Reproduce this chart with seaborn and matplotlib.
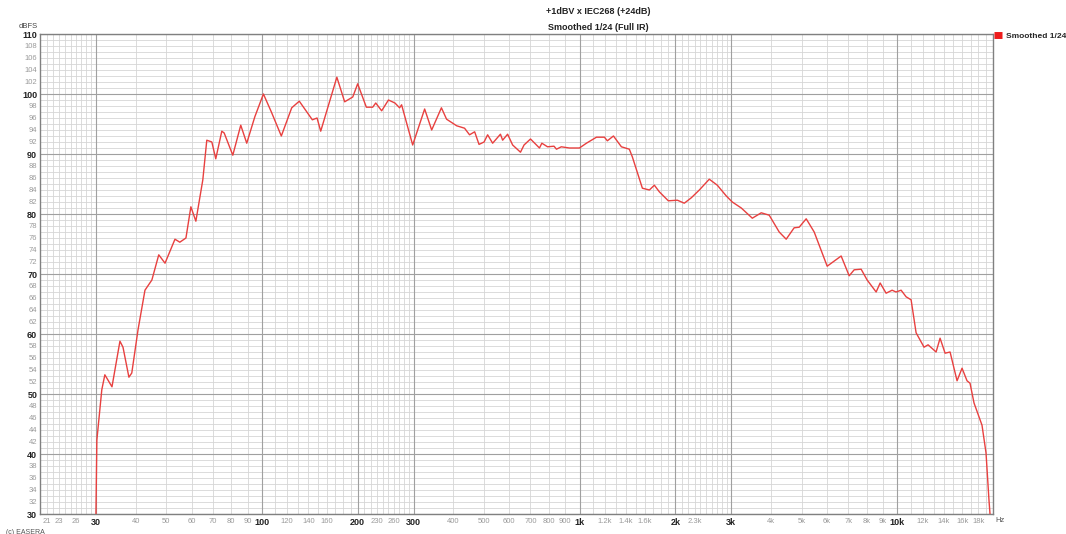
import matplotlib
matplotlib.use("Agg")
import matplotlib.pyplot as plt
import seaborn as sns
import pandas as pd

# ---- data ----
freq_hz = [30, 30.2, 31.3, 32.0, 33.7, 35.7, 36.5, 38.1, 38.9, 40.7, 42.8, 45.0, 47.3, 49.5,
           53.2, 55.1, 57.6, 59.7, 61.9, 65.1, 67.0, 69.5, 71.5, 74.7, 76.0, 80.9, 85.7,
           89.5, 94.9, 101, 107, 115, 124, 131, 144, 149, 153, 172, 182, 193, 200, 213,
           223, 228, 238, 250, 262, 271, 275, 298, 325, 342, 367, 381, 410, 434, 450, 467,
           482, 500, 513, 532, 563, 572, 593, 615, 651, 668, 700, 747, 760, 792, 830, 845,
           875, 928, 998, 1050, 1129, 1196, 1222, 1277, 1353, 1433, 1465, 1575, 1657, 1718,
           1781, 1901, 2030, 2134, 2245, 2380, 2558, 2711, 2894, 3022, 3226, 3494, 3728,
           3950, 4246, 4467, 4732, 4908, 5164, 5472, 6012, 6653, 7052, 7312, 7690, 8032,
           8574, 8826, 9216, 9626, 9900, 10274, 10654, 11046, 11454, 12134, 12492, 13240,
           13628, 14132, 14652, 15412, 15980, 16568, 16932, 17430, 18468, 19012, 19426, 19570]
spl_dbfs = [30.0, 42.3, 50.7, 53.2, 51.2, 58.8, 57.8, 52.8, 53.5, 60.7, 67.3, 69.0, 73.2, 71.8,
            75.8, 75.3, 76.0, 81.2, 78.8, 85.7, 92.3, 92.0, 89.2, 93.8, 93.5, 89.8, 94.8,
            91.8, 96.2, 100.0, 97.0, 93.0, 97.7, 98.8, 95.7, 96.0, 93.8, 102.8, 98.7, 99.5,
            101.7, 97.8, 97.8, 98.5, 97.2, 99.0, 98.5, 97.7, 98.2, 91.5, 97.5, 94.0, 97.7,
            95.8, 94.7, 94.3, 93.2, 93.7, 91.6, 92.0, 93.2, 91.8, 93.3, 92.3, 93.3, 91.5,
            90.3, 91.5, 92.5, 91.0, 91.8, 91.2, 91.3, 90.8, 91.2, 91.0, 91.0, 91.8, 92.8,
            92.8, 92.2, 93.0, 91.2, 90.8, 89.5, 84.3, 84.0, 84.8, 83.7, 82.2, 82.3, 81.8,
            82.7, 84.0, 85.8, 84.8, 83.0, 82.0, 81.0, 79.3, 80.2, 79.8, 77.0, 75.8, 77.7,
            77.8, 79.2, 77.0, 71.3, 73.0, 69.7, 70.7, 70.8, 69.0, 67.0, 68.5, 66.8, 67.3,
            67.0, 67.3, 66.2, 65.7, 60.2, 57.8, 58.2, 57.0, 59.3, 56.8, 57.0, 52.2, 54.3,
            52.2, 51.8, 48.5, 44.8, 40.2, 32.3, 30.0]
series_name = "Smoothed 1/24"

x_tick_values = [21, 23, 26, 30, 40, 50, 60, 70, 80, 90, 100, 120, 140, 160, 200, 230, 260,
                 300, 400, 500, 600, 700, 800, 900, 1000, 1200, 1400, 1600, 2000, 2300, 3000,
                 4000, 5000, 6000, 7000, 8000, 9000, 10000, 12000, 14000, 16000, 18000]
x_tick_labels = ["21", "23", "26", "30", "40", "50", "60", "70", "80", "90", "100", "120",
                 "140", "160", "200", "230", "260", "300", "400", "500", "600", "700", "800",
                 "900", "1k", "1.2k", "1.4k", "1.6k", "2k", "2.3k", "3k", "4k", "5k", "6k",
                 "7k", "8k", "9k", "10k", "12k", "14k", "16k", "18k"]
x_strong = [30, 100, 200, 300, 1000, 2000, 3000, 10000]
y_tick_values = list(range(30, 111, 2))
y_strong = list(range(30, 111, 10))

title_lines = ["+1dBV x IEC268 (+24dB)", "Smoothed 1/24 (Full IR)"]

# ---- style ----
sns.set_theme(style="white")
plt.rcParams["font.family"] = ["Liberation Sans", "DejaVu Sans"]

W, H = 1066, 534
fig = plt.figure(figsize=(W / 100, H / 100), dpi=100)
fig.patch.set_facecolor("white")
ax = fig.add_axes([40 / W, 20 / H, 953 / W, 480 / H])
ax.set_facecolor("white")

df = pd.DataFrame({"Frequency": freq_hz, "Level": spl_dbfs})
sns.lineplot(data=df, x="Frequency", y="Level", ax=ax, color="#e8403f", lw=1.0,
             label=series_name, zorder=5, sort=True)

ax.set_xscale("log")
ax.set_xlim(20, 20000)
ax.set_ylim(30, 110)

# grid positions
minor_x = []
for d in [10, 100, 1000, 10000]:
    for k in range(10, 30):
        v = d * k / 10
        if 20 <= v <= 20000:
            minor_x.append(v)
    for k in range(3, 10):
        v = d * k
        if 20 <= v <= 20000:
            minor_x.append(v)
ax.set_xticks(minor_x, minor=True)
ax.set_xticks(x_tick_values)
ax.set_xticklabels(x_tick_labels)
ax.set_yticks(list(range(30, 111, 1)), minor=True)
ax.set_yticks(y_tick_values)
ax.set_yticklabels([str(v) for v in y_tick_values])
ax.xaxis.set_minor_formatter(plt.NullFormatter())
ax.yaxis.set_minor_formatter(plt.NullFormatter())

ax.grid(True, which="both", color="#d6d6d6", lw=0.6, zorder=0)
ax.set_axisbelow(True)
for f in x_strong:
    ax.axvline(f, color="#a0a0a0", lw=0.8, zorder=1)
for v in y_strong:
    ax.axhline(v, color="#a0a0a0", lw=0.8, zorder=1)

ax.tick_params(axis="both", which="both", length=0)
ax.tick_params(axis="x", pad=3)
ax.tick_params(axis="y", pad=2)
for lab, v in zip(ax.get_xticklabels(), x_tick_values):
    if v in x_strong:
        lab.set_fontsize(6.5); lab.set_fontweight("bold"); lab.set_color("#222222")
    else:
        lab.set_fontsize(5.5); lab.set_color("#9a9a9a")
for lab, v in zip(ax.get_yticklabels(), y_tick_values):
    if v in y_strong:
        lab.set_fontsize(6.5); lab.set_fontweight("bold"); lab.set_color("#222222")
    else:
        lab.set_fontsize(5.5); lab.set_color("#9a9a9a")

ax.set_xlabel(""); ax.set_ylabel("")
for s in ax.spines.values():
    s.set_color("#808080"); s.set_linewidth(1.0)

# legend
h, l = ax.get_legend_handles_labels()
ax.get_legend().remove()
leg = fig.legend(h, l, loc="upper left", bbox_to_anchor=(994 / W, 1 - 32 / H),
                 frameon=False, fontsize=6, handlelength=1.0, handletextpad=0.4,
                 borderaxespad=0, borderpad=0)
for t in leg.get_texts():
    t.set_fontweight("bold")
for hd in leg.legend_handles:
    hd.set_linewidth(5)
    hd.set_color("#ee1c1c")
    hd.set_solid_capstyle("butt")

# texts
fig.text(598 / W, 1 - 12 / H, title_lines[0], ha="center", va="center", fontsize=6.5,
         fontweight="bold", color="#222222")
fig.text(598 / W, 1 - 27 / H, title_lines[1], ha="center", va="center", fontsize=6.5,
         fontweight="bold", color="#222222")
fig.text(28 / W, 1 - 27 / H, "dBFS", ha="center", va="center", fontsize=5.5, color="#444444")
fig.text(1000 / W, 1 - 520 / H, "Hz", ha="center", va="center", fontsize=5.5, color="#555555")
fig.text(6 / W, 1 - 532 / H, "(c) EASERA", ha="left", va="center", fontsize=5, color="#555555")

fig.savefig("out.png", dpi=100, facecolor="white")
